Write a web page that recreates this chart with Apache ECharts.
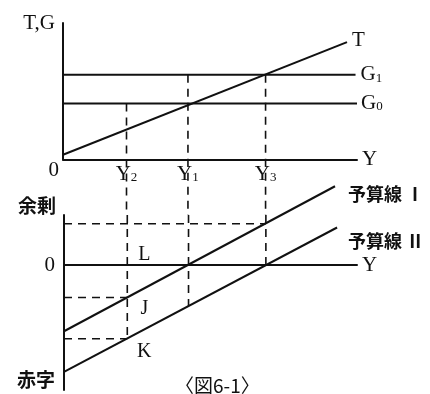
<!DOCTYPE html>
<html>
<head>
<meta charset="utf-8">
<script src="https://cdn.jsdelivr.net/npm/echarts@6/dist/echarts.min.js"></script>
<style>
  html, body { margin: 0; padding: 0; background: #fff; }
  #chart { width: 430px; height: 394px; }
</style>
</head>
<body>
<div id="chart"></div>
<script>
// 所得 Y の目盛り（Y2, Y1, Y3）
var incomeTicks = [2.16, 4.25, 6.89];
var incomeSubs = ['2', '1', '3'];
// 上段：租税 T と政府支出 G1, G0
var taxLine = [[0, 0.35], [9.66, 8.6]];
var govLevels = [6.2, 4.1];
var govNames = ['1', '0'];
// 下段：予算線 I, II
var budgetI = [[0, -5.3], [9.25, 6.3]];
var budgetII = [[0, -8.55], [9.32, 3.0]];
// 補助線の高さ（予算線I上のY3, 予算線I上のY2, 予算線II上のY2）
var balanceLevels = [3.3, -2.6, -5.9];
// 予算線II上のY1
var balanceY1 = -3.27;

var serif = 'Liberation Serif';
var cjk = 'Noto Sans CJK JP';
var black = '#111';

var myChart = echarts.init(document.getElementById('chart'));

var dashStyle = { color: black, width: 1.6, type: [8, 6] };
var solidStyle = { color: black, width: 2 };

function seg(grid, pts, style, extra) {
  var s = {
    type: 'line', xAxisIndex: grid, yAxisIndex: grid,
    data: pts, symbol: 'none', lineStyle: style, silent: true, clip: false
  };
  for (var k in extra) s[k] = extra[k];
  return s;
}

var Y2 = incomeTicks[0], Y1 = incomeTicks[1], Y3 = incomeTicks[2];
var topGap = -4.07; // 上段の下端からはみ出して下段へつなぐ
var lowTop = 4;

var series = [
  seg(0, taxLine, solidStyle, {
    endLabel: { show: true, formatter: 'T', distance: 5, offset: [0, -2],
      color: black, fontFamily: serif, fontSize: 21 }
  }),
  seg(0, [[0, govLevels[0]], [9.95, govLevels[0]]], solidStyle, {
    endLabel: { show: true, formatter: '{g|G}{s|' + govNames[0] + '}', distance: 5,
      rich: { g: { fontFamily: serif, fontSize: 21, color: black },
              s: { fontFamily: serif, fontSize: 13, color: black, padding: [7, 0, 0, 0] } } }
  }),
  seg(0, [[0, govLevels[1]], [10, govLevels[1]]], solidStyle, {
    endLabel: { show: true, formatter: '{g|G}{s|' + govNames[1] + '}', distance: 4,
      rich: { g: { fontFamily: serif, fontSize: 21, color: black },
              s: { fontFamily: serif, fontSize: 13, color: black, padding: [7, 0, 0, 0] } } }
  }),
  seg(0, [[Y2, govLevels[1]], [Y2, topGap]], dashStyle),
  seg(0, [[Y1, govLevels[0]], [Y1, topGap]], dashStyle),
  seg(0, [[Y3, govLevels[0]], [Y3, topGap]], dashStyle),

  seg(1, budgetI, solidStyle, {
    endLabel: { show: true, formatter: '予算線 Ⅰ', distance: 13, offset: [0, 8],
      color: black, fontFamily: cjk, fontWeight: 'bold', fontSize: 18 }
  }),
  seg(1, budgetII, solidStyle, {
    endLabel: { show: true, formatter: '予算線 Ⅱ', distance: 11, offset: [0, 14],
      color: black, fontFamily: cjk, fontWeight: 'bold', fontSize: 18 }
  }),
  seg(1, [[Y2, lowTop], [Y2, balanceLevels[2]]], dashStyle),
  seg(1, [[Y1, lowTop], [Y1, balanceY1]], dashStyle),
  seg(1, [[Y3, lowTop], [Y3, 0]], dashStyle),
  seg(1, [[0, balanceLevels[0]], [Y3, balanceLevels[0]]], dashStyle),
  seg(1, [[0, balanceLevels[1]], [Y2, balanceLevels[1]]], dashStyle),
  seg(1, [[0, balanceLevels[2]], [Y2, balanceLevels[2]]], dashStyle),
  {
    type: 'scatter', xAxisIndex: 1, yAxisIndex: 1, symbolSize: 0, silent: true,
    itemStyle: { color: black, opacity: 1 },
    label: { show: true, formatter: '{b}', position: 'inside', opacity: 1,
      color: black, textBorderWidth: 0, fontFamily: serif, fontSize: 20 },
    data: [
      { name: 'L', value: [Y2, 0], label: { offset: [17, -10] } },
      { name: 'J', value: [Y2, balanceLevels[1]], label: { offset: [17, 11] } },
      { name: 'K', value: [Y2, balanceLevels[2]], label: { offset: [17, 13] } }
    ]
  }
];

option = {
  animation: false,
  backgroundColor: '#fff',
  title: {
    text: '〈図6-1〉', left: 170, top: 371,
    textStyle: { fontFamily: cjk, fontSize: 19, fontWeight: 'normal', color: black }
  },
  grid: [
    { left: 63, top: 23, width: 294, height: 136.5 },
    { left: 64, top: 215, width: 293, height: 175 }
  ],
  xAxis: [
    {
      gridIndex: 0, type: 'value', min: 0, max: 10,
      name: 'Y', nameGap: 5,
      nameTextStyle: { fontFamily: serif, fontSize: 21, color: black, padding: [6, 0, 0, 0] },
      axisLine: { lineStyle: { color: black, width: 2 } },
      axisTick: { show: false }, splitLine: { show: false },
      axisLabel: {
        customValues: incomeTicks, margin: 4,
        formatter: function (v) {
          var i = incomeTicks.indexOf(v);
          return '{y|Y}{s|' + incomeSubs[i] + '}';
        },
        rich: { y: { fontFamily: serif, fontSize: 21, color: black },
                s: { fontFamily: serif, fontSize: 13, color: black, padding: [7, 0, 0, 0] } }
      }
    },
    {
      gridIndex: 1, type: 'value', min: 0, max: 10,
      name: 'Y', nameGap: 5,
      nameTextStyle: { fontFamily: serif, fontSize: 21, color: black, padding: [22, 0, 0, 0] },
      axisLine: { onZero: true, lineStyle: { color: black, width: 2 } },
      axisTick: { show: false }, splitLine: { show: false },
      axisLabel: { show: false }
    }
  ],
  yAxis: [
    {
      gridIndex: 0, type: 'value', min: 0, max: 10,
      name: 'T,G', nameLocation: 'end', nameGap: 0,
      nameTextStyle: { fontFamily: serif, fontSize: 21, color: black,
        align: 'right', verticalAlign: 'middle', padding: [0, 8, 0, 0] },
      axisLine: { show: true, lineStyle: { color: black, width: 2 } },
      axisTick: { show: false }, splitLine: { show: false },
      axisLabel: { customValues: [0], margin: 4, verticalAlign: 'top',
        fontFamily: serif, fontSize: 21, color: black }
    },
    {
      gridIndex: 1, type: 'value', min: -10, max: lowTop,
      name: '余剰', nameLocation: 'end', nameGap: 0,
      nameTextStyle: { fontFamily: cjk, fontWeight: 'bold', fontSize: 19, color: black,
        align: 'right', verticalAlign: 'bottom', padding: [0, 8, 0, 0] },
      axisLine: { show: true, onZero: false, lineStyle: { color: black, width: 2 } },
      axisTick: { show: false }, splitLine: { show: false },
      axisLabel: {
        customValues: [0, -10], margin: 9,
        formatter: function (v) { return v === 0 ? '{n|0}' : '{b|赤字}'; },
        rich: { n: { fontFamily: serif, fontSize: 21, color: black },
                b: { fontFamily: cjk, fontWeight: 'bold', fontSize: 19, color: black,
                     padding: [0, 0, 20, 0] } }
      }
    }
  ],
  series: series
};

myChart.setOption(option);
</script>
</body>
</html>
